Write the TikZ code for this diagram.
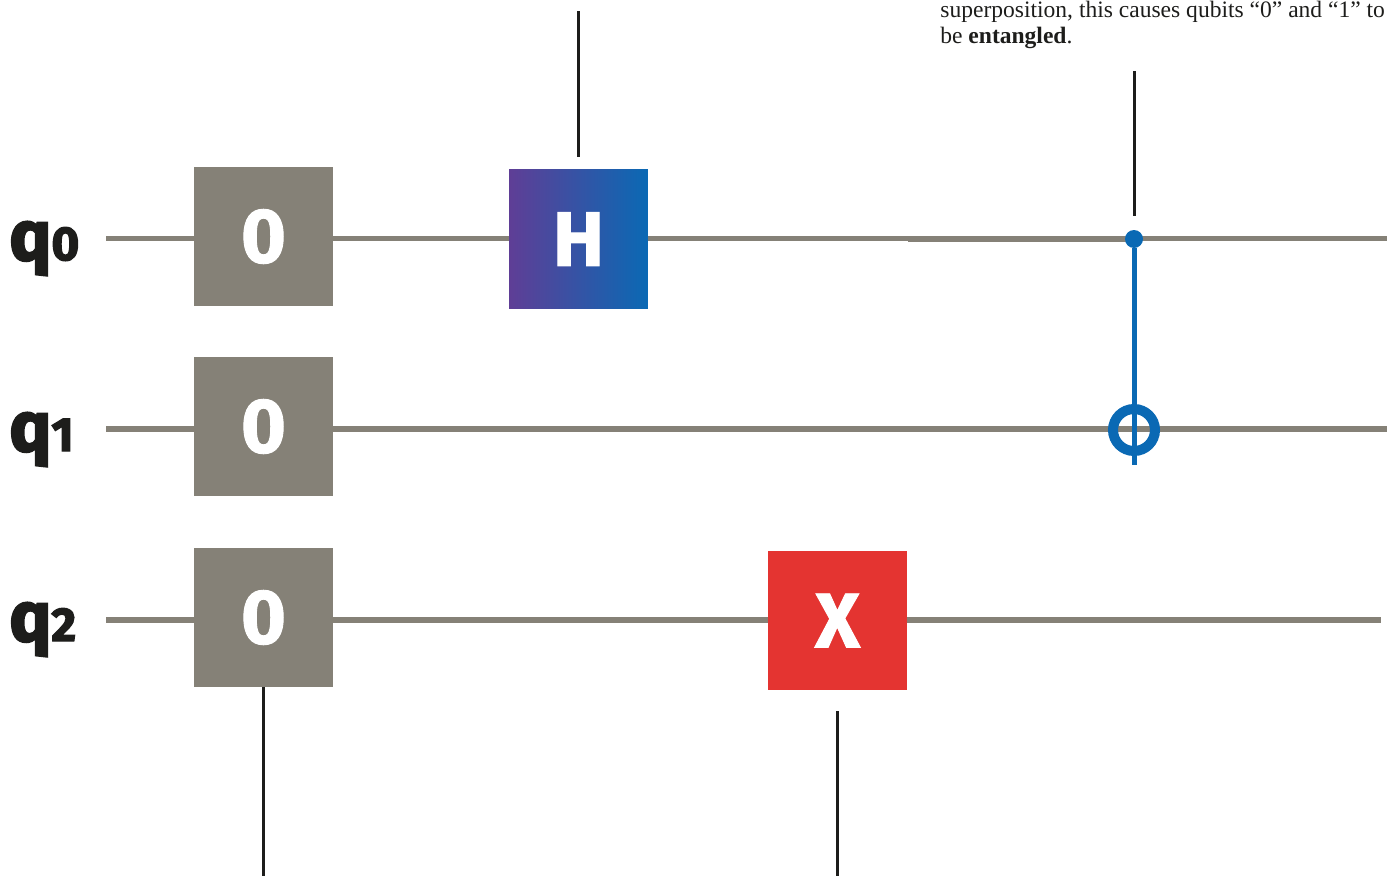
\documentclass[tikz,border=0pt]{standalone}
\usepackage{fontspec}
\setmainfont{Liberation Serif}
\setsansfont{Fira Sans}
\newfontfamily\gatefont[BoldFeatures={FakeBold=1.2}]{Fira Sans}
\newfontfamily\qubitfont[BoldFeatures={FakeBold=3}]{Fira Sans}
\definecolor{wiregray}{HTML}{858177}
\definecolor{qblue}{HTML}{0A69B4}
\definecolor{qpurple}{HTML}{5F3E96}
\definecolor{qred}{HTML}{E43431}
\definecolor{qblack}{HTML}{1D1D1B}
\begin{document}
\begin{tikzpicture}[x=0.02cm, y=-0.02cm,
	gate/.style = {minimum size=2.78cm, inner sep=0pt, text=white, font=\gatefont\bfseries\fontsize{44}{44}\selectfont},
	wire/.style = {draw=wiregray, line width=0.11cm},
	overlap/.style = {draw=wiregray, line width=0.12cm},
	leader/.style = {draw=qblack, line width=0.06cm},
	ctrl/.style = {draw=qblue, line width=0.1cm},
	qlabel/.style = {text=qblack, inner sep=0pt, anchor=base west, font=\qubitfont\bfseries\fontsize{40}{40}\selectfont}]
	\useasboundingbox (0,0) rectangle (1393,876);
	% qubit labels
	\node[qlabel] (q0) at (9,260) {q\fontsize{27}{27}\selectfont 0};
	\node[qlabel] (q1) at (9,451) {q\fontsize{27}{27}\selectfont 1};
	\node[qlabel] (q2) at (9,641) {q\fontsize{27}{27}\selectfont 2};
	% gates
	\node[gate, fill=wiregray] (init0) at (263.5,236.5) {0};
	\node[gate, fill=wiregray] (init1) at (263.5,426.5) {0};
	\node[gate, fill=wiregray] (init2) at (263.5,617.5) {0};
	\node[gate, left color=qpurple, right color=qblue] (hgate) at (578.5,239) {H};
	\node[gate, fill=qred] (xgate) at (837.5,620.5) {X};
	% wire ends
	\coordinate (start0) at (106,238.5);
	\coordinate (start1) at (106,429);
	\coordinate (start2) at (106,620);
	\coordinate (end0) at (1387,238.5);
	\coordinate (end1) at (1387,429);
	\coordinate (end2) at (1381,620);
	\coordinate (left0) at (init0.west |- start0);
	\coordinate (right0) at (init0.east |- start0);
	\coordinate (left1) at (init1.west |- start1);
	\coordinate (right1) at (init1.east |- start1);
	\coordinate (left2) at (init2.west |- start2);
	\coordinate (right2) at (init2.east |- start2);
	\coordinate (hleft) at (hgate.west |- start0);
	\coordinate (hright) at (hgate.east |- start0);
	\coordinate (xleft) at (xgate.west |- start2);
	\coordinate (xright) at (xgate.east |- start2);
	\draw[wire] (start0) -- (left0);
	\draw[wire] (right0) -- (hleft);
	\draw[wire] (hright) -- (end0);
	\draw[wire] (start1) -- (left1);
	\draw[wire] (right1) -- (end1);
	\draw[wire] (start2) -- (left2);
	\draw[wire] (right2) -- (xleft);
	\draw[wire] (xright) -- (end2);
	% doubled stretches
	\coordinate (over0) at (908,238.5);
	\coordinate (over1) at (908,429);
	\coordinate (over2) at (940,620);
	\coordinate (overend0) at (1134,238.5);
	\coordinate (overend1) at (1134,429);
	\coordinate (overend2) at (1136,620);
	\draw[overlap] (over0) -- (overend0);
	\draw[overlap] (over1) -- (overend1);
	\draw[overlap] (over2) -- (overend2);
	% cnot
	\node[circle, fill=qblue, minimum size=0.36cm, inner sep=0pt] (control) at (1134,239) {};
	\node[circle, draw=qblue, line width=0.2cm, minimum size=0.84cm, inner sep=0pt] (target) at (1134,430) {};
	\coordinate (tail) at (1134,465);
	\draw[ctrl] (control) -- (tail);
	% leader lines
	\coordinate (lead0) at (578,11);
	\coordinate (lead1) at (1134,71);
	\coordinate (lead2) at (263.5,876);
	\coordinate (lead3) at (837.5,876);
	\coordinate (foot0) at (578,157);
	\coordinate (foot1) at (1134,216);
	\coordinate (foot3) at (837.5,711);
	\draw[leader] (lead0) -- (foot0);
	\draw[leader] (lead1) -- (foot1);
	\draw[leader] (init2.south) -- (lead2);
	\draw[leader] (foot3) -- (lead3);
	% note
	\node[anchor=north west, align=left, inner sep=0pt, text=qblack, font=\fontsize{13.4}{14.8}\selectfont] (note) at (940,1) {superposition, this causes qubits “0” and “1” to\\be \textbf{entangled}.};
\end{tikzpicture}
\end{document}
